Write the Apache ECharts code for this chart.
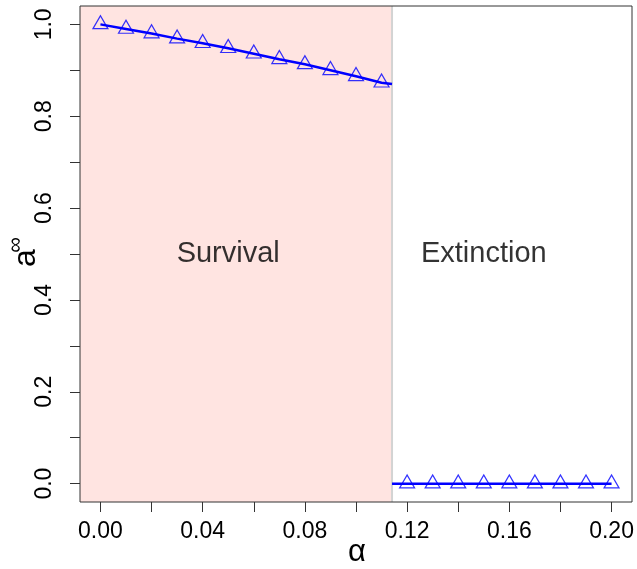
<!DOCTYPE html>
<html>
<head>
  <meta charset="UTF-8">
  <title>a vs alpha</title>
  <script src="https://cdn.jsdelivr.net/npm/echarts@6/dist/echarts.min.js"></script>
  <style>
    *{margin:0;padding:0;}
    #main{width:637px;height:569px;}
  </style>
</head>
<body>
<div id="main"></div>
<script>
  // simulated points (triangles)
  var alphaSurv = [0, 0.01, 0.02, 0.03, 0.04, 0.05, 0.06, 0.07, 0.08, 0.09, 0.10, 0.11];
  var aSurv     = [1.000, 0.990, 0.980, 0.969, 0.959, 0.948, 0.936, 0.924, 0.913, 0.900, 0.887, 0.873];
  var alphaExt  = [0.12, 0.13, 0.14, 0.15, 0.16, 0.17, 0.18, 0.19, 0.20];
  var aExt      = [0, 0, 0, 0, 0, 0, 0, 0, 0];
  // theory curve
  var alphaLine = [0, 0.01, 0.02, 0.03, 0.04, 0.05, 0.06, 0.07, 0.08, 0.09, 0.10, 0.11, 0.1141];
  var aLine     = [1.000, 0.990, 0.980, 0.969, 0.959, 0.948, 0.936, 0.924, 0.913, 0.900, 0.887, 0.873, 0.870];
  var alphaCrit = 0.1141;
  var zeroLineX = [alphaCrit, 0.20];
  var zeroLineY = [0, 0];
  var critLineX = [alphaCrit, alphaCrit];
  var critLineY = [-0.04, 1.04];
  // axes
  var xTicks  = [0, 0.02, 0.04, 0.06, 0.08, 0.10, 0.12, 0.14, 0.16, 0.18, 0.20];
  var xLabels = [0, 0.04, 0.08, 0.12, 0.16, 0.20];
  var yTicks  = [0, 0.1, 0.2, 0.3, 0.4, 0.5, 0.6, 0.7, 0.8, 0.9, 1.0];
  var yLabels = [0, 0.2, 0.4, 0.6, 0.8, 1.0];
  var regionNames = ['Survival', 'Extinction'];
  var regionX = [0.05, 0.15];
  var regionY = [0.5, 0.5];

  function zip(a, b){ return a.map(function(v, i){ return [v, b[i]]; }); }

  var font = "'Liberation Sans', Arial, sans-serif";
  var myChart = echarts.init(document.getElementById('main'));
  var option = {
    animation: false,
    grid: {left: 80, right: 5, top: 6, bottom: 67, containLabel: false, outerBoundsMode: 'none',
      show: true, borderColor: '#333', borderWidth: 1, z: 10},
    // axis titles: a^inf (rotated, superscript) and alpha
    graphic: [
      {type: 'text', x: 26, y: 258, rotation: Math.PI / 2, silent: true,
        style: {text: 'a', fontSize: 32, fontFamily: font, fill: '#000', align: 'center', verticalAlign: 'middle'}},
      {type: 'text', x: 16, y: 245, rotation: Math.PI / 2, silent: true,
        style: {text: '∞', fontSize: 22, fontFamily: font, fill: '#000', align: 'center', verticalAlign: 'middle'}},
      {type: 'text', x: 357, y: 552, silent: true,
        style: {text: 'α', fontSize: 31, fontFamily: font, fill: '#000', align: 'center', verticalAlign: 'middle'}}
    ],
    xAxis: {
      type: 'value', min: -0.008, max: 0.208,
      axisLine: {show: false, onZero: false},
      splitLine: {show: false},
      axisTick: {show: true, length: 10, customValues: xTicks, lineStyle: {color: '#333'}},
      axisLabel: {customValues: xLabels, fontSize: 23, color: '#000', fontFamily: font, margin: 18,
        formatter: function(v){ return v.toFixed(2); }}
    },
    yAxis: {
      type: 'value', min: -0.04, max: 1.04,
      axisLine: {show: false, onZero: false},
      splitLine: {show: false},
      axisTick: {show: true, length: 10, customValues: yTicks, lineStyle: {color: '#333'}},
      axisLabel: {customValues: yLabels, fontSize: 23, color: '#000', fontFamily: font, rotate: 90, margin: 24,
        formatter: function(v){ return v.toFixed(1); }}
    },
    series: [
      {
        type: 'line', data: zip(alphaLine, aLine), showSymbol: false, z: 3,
        lineStyle: {color: '#0000ff', width: 2.5},
        markArea: {silent: true, itemStyle: {color: '#ffe4e1'},
          data: [[{xAxis: -0.008}, {xAxis: alphaCrit}]]}
      },
      {
        type: 'line', data: zip(critLineX, critLineY), showSymbol: false, z: 2,
        lineStyle: {color: '#d3d3d3', width: 2}
      },
      {
        type: 'line', data: zip(zeroLineX, zeroLineY), showSymbol: false, z: 3,
        lineStyle: {color: '#0000ff', width: 2.5}
      },
      {
        type: 'scatter', data: zip(alphaSurv, aSurv).concat(zip(alphaExt, aExt)), z: 4,
        symbol: 'triangle', symbolSize: [15, 13], symbolOffset: [0, -2.2],
        itemStyle: {color: 'rgba(0,0,0,0)', borderColor: '#0000ff', borderWidth: 1.2}
      },
      {
        type: 'scatter', data: zip(regionX, regionY), symbolSize: 1, z: 4,
        itemStyle: {color: 'rgba(0,0,0,0)'},
        label: {show: true, position: 'inside', fontSize: 29, color: '#000', fontFamily: font,
          formatter: function(p){ return regionNames[p.dataIndex]; }}
      }
    ]
  };
  myChart.setOption(option);
</script>
</body>
</html>
